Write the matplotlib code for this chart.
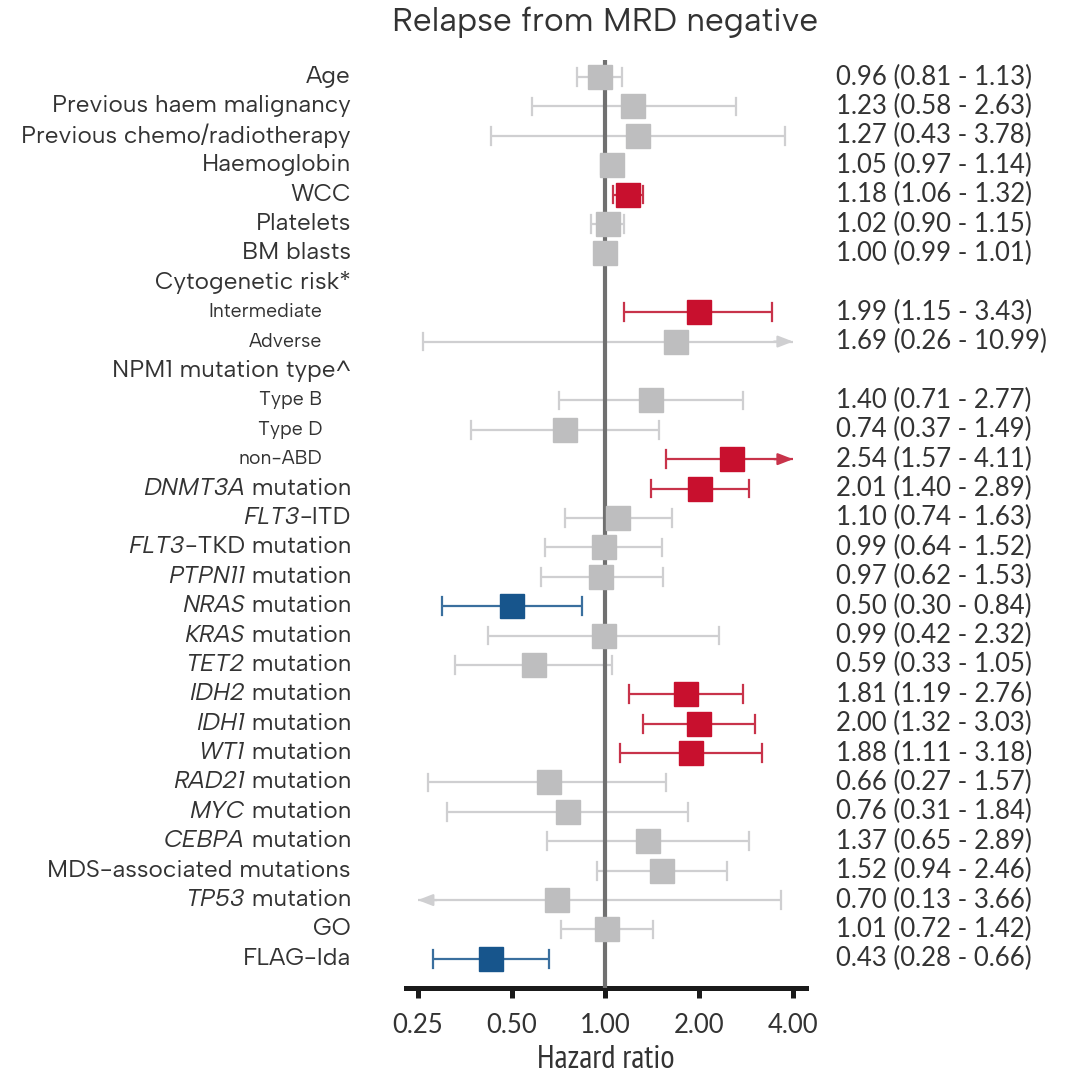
import matplotlib.pyplot as plt
import matplotlib.transforms as mtransforms

LABEL_FONT = ['Albert Sans', 'Lato', 'DejaVu Sans']
NUM_FONT = ['Lato', 'DejaVu Sans']
NARROW_FONT = ['PT Sans Narrow', 'Roboto Condensed', 'Archivo Narrow', 'Lato']
plt.rcParams['font.family'] = LABEL_FONT

# rows top to bottom; None marks a heading row with no estimate
genes = [''] * 14 + ['DNMT3A', 'FLT3', 'FLT3', 'PTPN11', 'NRAS', 'KRAS', 'TET2',
                     'IDH2', 'IDH1', 'WT1', 'RAD21', 'MYC', 'CEBPA', '', 'TP53',
                     '', '']
labels = ['Age', 'Previous haem malignancy', 'Previous chemo/radiotherapy',
          'Haemoglobin', 'WCC', 'Platelets', 'BM blasts', 'Cytogenetic risk*',
          'Intermediate', 'Adverse', 'NPM1 mutation type^', 'Type B', 'Type D',
          'non-ABD', ' mutation', '-ITD', '-TKD mutation', ' mutation',
          ' mutation', ' mutation', ' mutation', ' mutation', ' mutation',
          ' mutation', ' mutation', ' mutation', ' mutation',
          'MDS-associated mutations', ' mutation', 'GO', 'FLAG-Ida']
sublevel = [False] * 8 + [True, True, False, True, True, True] + [False] * 17

hr = [0.96, 1.23, 1.27, 1.05, 1.18, 1.02, 1.00, None, 1.99, 1.69, None,
      1.40, 0.74, 2.54, 2.01, 1.10, 0.99, 0.97, 0.50, 0.99, 0.59, 1.81,
      2.00, 1.88, 0.66, 0.76, 1.37, 1.52, 0.70, 1.01, 0.43]
lo = [0.81, 0.58, 0.43, 0.97, 1.06, 0.90, 0.99, None, 1.15, 0.26, None,
      0.71, 0.37, 1.57, 1.40, 0.74, 0.64, 0.62, 0.30, 0.42, 0.33, 1.19,
      1.32, 1.11, 0.27, 0.31, 0.65, 0.94, 0.13, 0.72, 0.28]
hi = [1.13, 2.63, 3.78, 1.14, 1.32, 1.15, 1.01, None, 3.43, 10.99, None,
      2.77, 1.49, 4.11, 2.89, 1.63, 1.52, 1.53, 0.84, 2.32, 1.05, 2.76,
      3.03, 3.18, 1.57, 1.84, 2.89, 2.46, 3.66, 1.42, 0.66]

xticks = [0.25, 0.5, 1.0, 2.0, 4.0]
xmin, xmax = 0.25, 4.0

RED, RED_LINE = '#c8102e', '#c8334a'
BLUE, BLUE_LINE = '#17558c', '#3a6f9e'
GREY, GREY_LINE = '#bebebf', '#cfcfd1'
TXT = '#333333'

fig = plt.figure(figsize=(10.71, 10.82), dpi=100)
ax = fig.add_axes([0.379, 0.0869, 0.3735, 0.8577])
ax.set_xscale('log', base=2)
ax.set_xlim(0.229, 4.40)
ax.set_ylim(30.99, -0.58)

lab_tr = mtransforms.blended_transform_factory(ax.transAxes, ax.transData)
arrow_style = dict(arrowstyle='-|>,head_length=0.9,head_width=0.35',
                   lw=1.6, shrinkA=0, shrinkB=0)

for i, lab in enumerate(labels):
    if sublevel[i]:
        ax.text(-0.21, i, lab, transform=lab_tr, ha='right', va='center',
                fontsize=14, color=TXT)
    else:
        t = ax.text(-0.1375, i, lab, transform=lab_tr, ha='right', va='center',
                    fontsize=17.5, color=TXT)
        if genes[i]:
            # italic gene name sits just left of the plain suffix
            ax.annotate(genes[i], xy=(0, 0), xycoords=t, ha='right', va='bottom',
                        fontsize=17.5, color=TXT, style='italic')
    if hr[i] is None:
        continue

    if lo[i] > 1:
        col, lcol = RED, RED_LINE
    elif hi[i] < 1:
        col, lcol = BLUE, BLUE_LINE
    else:
        col, lcol = GREY, GREY_LINE

    a = max(lo[i], xmin)
    b = min(hi[i], xmax)
    ax.plot([a, b], [i, i], color=lcol, lw=1.6, zorder=2, solid_capstyle='butt')
    if lo[i] >= xmin:
        ax.plot([a, a], [i - 0.3, i + 0.3], color=lcol, lw=1.6, zorder=2)
    else:
        ax.annotate('', xy=(a, i), xytext=(a * 1.15, i), zorder=2,
                    arrowprops=dict(color=lcol, **arrow_style))
    if hi[i] <= xmax:
        ax.plot([b, b], [i - 0.3, i + 0.3], color=lcol, lw=1.6, zorder=2)
    else:
        ax.annotate('', xy=(b, i), xytext=(b / 1.15, i), zorder=2,
                    arrowprops=dict(color=lcol, **arrow_style))
    ax.plot(hr[i], i, marker='s', ms=17, color=col, mec=col, zorder=4)

    ax.text(1.075, i, f'{hr[i]:.2f} ({lo[i]:.2f} - {hi[i]:.2f})', transform=lab_tr,
            ha='left', va='center', fontsize=18.5, color=TXT, family=NUM_FONT)

ax.axvline(1.0, color='#707070', lw=3, zorder=3)

for side in ['top', 'right', 'left']:
    ax.spines[side].set_visible(False)
ax.spines['bottom'].set_linewidth(3.6)
ax.spines['bottom'].set_color('#1a1a1a')
ax.set_yticks([])
ax.set_xticks(xticks)
ax.set_xticklabels([f'{t:.2f}' for t in xticks], family=NUM_FONT)
ax.minorticks_off()
ax.tick_params(axis='x', length=7, width=3.6, color='#1a1a1a', labelsize=18.5,
               labelcolor=TXT, pad=11)
ax.set_xlabel('Hazard ratio', fontsize=23.5, color=TXT, labelpad=5,
              family=NARROW_FONT)

fig.text(0.565, 0.979, 'Relapse from MRD negative', ha='center', va='center',
         fontsize=24, color=TXT)

fig.savefig('out.png', dpi=100, facecolor='white')
